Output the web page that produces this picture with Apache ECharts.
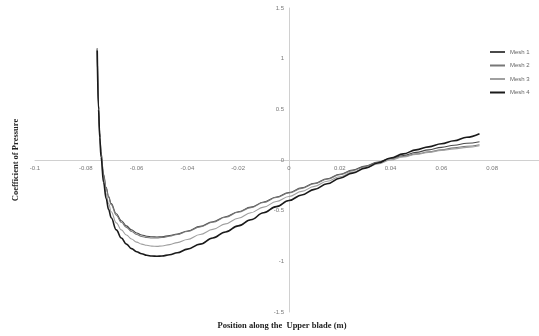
<!DOCTYPE html>
<html>
<head>
<meta charset="utf-8">
<script src="https://cdn.jsdelivr.net/npm/echarts@6/dist/echarts.min.js"></script>
<style>html,body{margin:0;padding:0;background:#fff;}#c{width:539px;height:336px;}</style>
</head>
<body>
<div id="c"></div>
<script>
const xPos = [-0.0755, -0.075, -0.0745, -0.074, -0.073, -0.072, -0.071, -0.070, -0.068, -0.066, -0.064, -0.062, -0.060, -0.058, -0.056, -0.054, -0.052, -0.050, -0.047, -0.044, -0.040, -0.035, -0.030, -0.025, -0.020, -0.015, -0.010, -0.005, 0, 0.005, 0.010, 0.015, 0.020, 0.025, 0.030, 0.035, 0.040, 0.045, 0.050, 0.055, 0.060, 0.065, 0.070, 0.075];
const mesh1 = [1.10, 0.55, 0.27, 0.08, -0.14, -0.27, -0.36, -0.43, -0.53, -0.60, -0.65, -0.69, -0.72, -0.74, -0.752, -0.758, -0.76, -0.757, -0.745, -0.73, -0.70, -0.655, -0.61, -0.56, -0.51, -0.465, -0.415, -0.365, -0.32, -0.275, -0.23, -0.185, -0.14, -0.10, -0.06, -0.02, 0.015, 0.045, 0.075, 0.10, 0.125, 0.145, 0.165, 0.18];
const mesh2 = [1.10, 0.55, 0.26, 0.07, -0.15, -0.28, -0.37, -0.44, -0.545, -0.615, -0.665, -0.705, -0.735, -0.755, -0.765, -0.77, -0.77, -0.765, -0.752, -0.735, -0.705, -0.66, -0.615, -0.565, -0.515, -0.47, -0.42, -0.37, -0.325, -0.28, -0.235, -0.19, -0.145, -0.105, -0.065, -0.025, 0.01, 0.035, 0.06, 0.08, 0.10, 0.12, 0.135, 0.15];
const mesh3 = [1.10, 0.53, 0.24, 0.04, -0.19, -0.33, -0.43, -0.51, -0.62, -0.69, -0.74, -0.78, -0.81, -0.83, -0.842, -0.85, -0.852, -0.848, -0.835, -0.815, -0.785, -0.735, -0.685, -0.63, -0.575, -0.52, -0.465, -0.41, -0.36, -0.31, -0.26, -0.21, -0.165, -0.12, -0.08, -0.04, 0.0, 0.03, 0.055, 0.075, 0.095, 0.11, 0.125, 0.14];
const mesh4 = [1.08, 0.50, 0.22, 0.03, -0.22, -0.38, -0.49, -0.57, -0.69, -0.77, -0.83, -0.875, -0.905, -0.925, -0.94, -0.948, -0.95, -0.947, -0.935, -0.915, -0.88, -0.83, -0.77, -0.71, -0.65, -0.59, -0.52, -0.46, -0.40, -0.345, -0.29, -0.235, -0.18, -0.13, -0.08, -0.03, 0.02, 0.06, 0.10, 0.13, 0.16, 0.19, 0.225, 0.26];
const seriesNames = ['Mesh 1', 'Mesh 2', 'Mesh 3', 'Mesh 4'];
const seriesValues = [mesh1, mesh2, mesh3, mesh4];
const seriesColors = ['#4a4a4a', '#777777', '#a0a0a0', '#1a1a1a'];
const seriesWidths = [1.1, 1.1, 1.1, 1.6];

const chart = echarts.init(document.getElementById('c'));
const fmt = v => {
  if (Math.abs(v) < 1e-9) return '0';
  return String(Math.round(v * 1000) / 1000);
};
chart.setOption({
  animation: false,
  backgroundColor: '#fff',
  grid: { left: 35, width: 508, top: 8, height: 304, containLabel: false, outerBoundsMode: 'none' },
  legend: {
    orient: 'vertical',
    left: 485, top: 44,
    itemWidth: 15, itemHeight: 2, itemGap: 7.5,
    icon: 'rect',
    textStyle: { fontSize: 6, color: '#666', fontFamily: 'Liberation Sans' },
    data: seriesNames.map((n, i) => ({ name: n, itemStyle: { color: seriesColors[i] } }))
  },
  xAxis: {
    type: 'value', min: -0.1, max: 0.1, interval: 0.02,
    position: 'bottom', offset: -152,
    axisLine: { onZero: false, lineStyle: { color: '#d0d0d0', width: 1 } },
    axisTick: { show: false },
    splitLine: { show: false },
    axisLabel: { fontSize: 6, color: '#777', formatter: fmt, margin: 5, fontFamily: 'Liberation Sans' },
    name: 'Position along the  Upper blade (m)',
    nameLocation: 'middle', nameGap: 161,
    nameTextStyle: { fontFamily: 'Liberation Serif', fontSize: 8.5, fontWeight: 'bold', color: '#222', padding: [0, 14, 0, 0] }
  },
  yAxis: {
    type: 'value', min: -1.5, max: 1.5, interval: 0.5,
    position: 'left', offset: -254,
    axisLine: { onZero: false, lineStyle: { color: '#d0d0d0', width: 1 } },
    axisTick: { show: false },
    splitLine: { show: false },
    axisLabel: { fontSize: 6, color: '#777', formatter: fmt, margin: 5, fontFamily: 'Liberation Sans' },
    name: 'Coefficient of Pressure',
    nameLocation: 'middle', nameGap: 269, nameRotate: 90,
    nameTextStyle: { fontFamily: 'Liberation Serif', fontSize: 8.5, fontWeight: 'bold', color: '#222' }
  },
  series: seriesNames.map((n, i) => ({
    name: n, type: 'line',
    data: xPos.map((x, j) => [x, seriesValues[i][j]]),
    showSymbol: false, smooth: 0.4, smoothMonotone: 'x',
    lineStyle: { color: seriesColors[i], width: seriesWidths[i] },
    itemStyle: { color: seriesColors[i] }
  }))
});
</script>
</body>
</html>
